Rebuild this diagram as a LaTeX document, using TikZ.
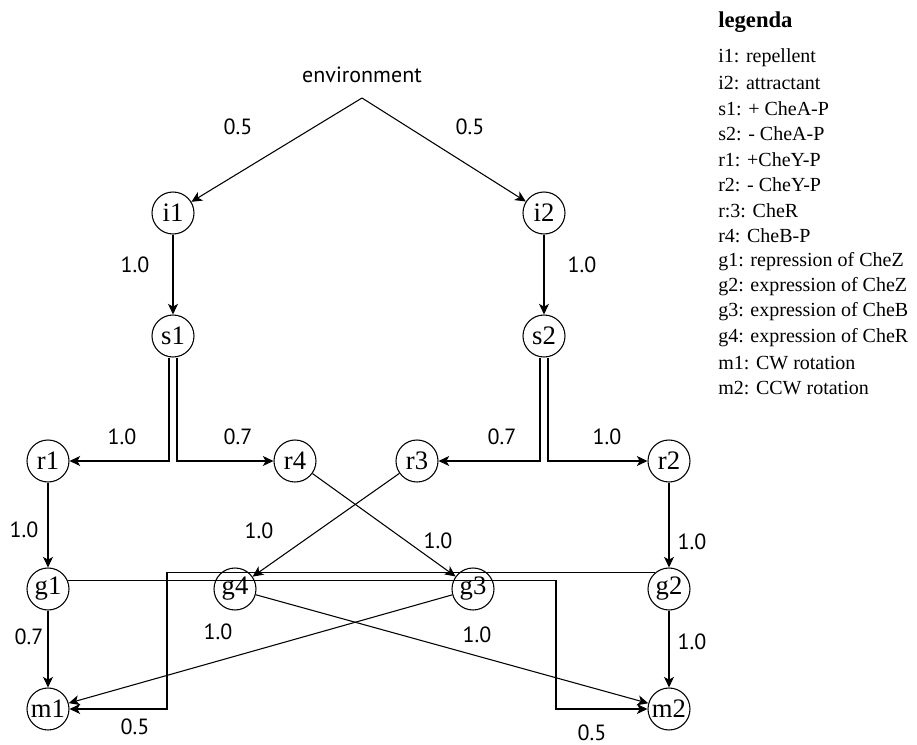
\documentclass[tikz,border=0pt]{standalone}
\usepackage{fontspec}
\setmainfont{Liberation Serif}
\newfontfamily\lblfont{PT Sans}
\usetikzlibrary{arrows.meta,calc}
\begin{document}
\begin{tikzpicture}[x=0.75pt,y=-0.75pt,
  st/.style={circle,draw,line width=0.8pt,minimum size=31.5pt,inner sep=0pt,font=\fontsize{20}{20}\selectfont},
  arr/.style={line width=0.8pt,-{Stealth[length=8pt,width=7.5pt,inset=2.2pt]}},
  wt/.style={inner sep=0pt,font=\lblfont\fontsize{16.5}{16.5}\selectfont},
  leg/.style={anchor=west,inner sep=0pt,font=\fontsize{15}{15}\selectfont}]
\useasboundingbox (0,0) rectangle (917,745);
% nodes
\node[wt] (env) at (362,75) {environment};
\coordinate (apex) at (362,98);
\node[st] (i1) at (173,213) {i1};
\node[st] (i2) at (544,213) {i2};
\node[st] (s1) at (173,336) {s1};
\node[st] (s2) at (544,336) {s2};
\node[st] (r1) at (48,461) {r1};
\node[st] (r4) at (295,461) {r4};
\node[st] (r3) at (417,461) {r3};
\node[st] (r2) at (669,461) {r2};
\node[st] (g1) at (48,589) {g1};
\node[st] (g4) at (235,589) {g4};
\node[st] (g3) at (473,589) {g3};
\node[st] (g2) at (669,589) {g2};
\node[st] (m1) at (48,709) {m1};
\node[st] (m2) at (669,709) {m2};
\coordinate (bendR) at (556,0);
\coordinate (bendL) at (167,0);
% connectors
\draw[arr] (apex) -- (i1);
\draw[arr] (apex) -- (i2);
\draw[arr] (i1) -- (s1);
\draw[arr] (i2) -- (s2);
\draw[arr] ([xshift=-3pt]s1.south) |- (r1);
\draw[arr] ([xshift=3pt]s1.south) |- (r4);
\draw[arr] ([xshift=-3pt]s2.south) |- (r3);
\draw[arr] ([xshift=3pt]s2.south) |- (r2);
\draw[arr] (r1) -- (g1);
\draw[arr] (r2) -- (g2);
\draw[arr] (g1) -- (m1);
\draw[arr] (g2) -- (m2);
\draw[arr] (r4) -- (g3);
\draw[arr] (r3) -- (g4);
\draw[arr] (g4) -- (m2);
\draw[arr] (g3) -- (m1);
\draw[arr] (g1.22) -- (g1.22 -| bendR) |- (m2);
\draw[arr] (g2.130) -- (g2.130 -| bendL) |- (m1);
% weights
\node[wt] (w1) at (238,127) {0.5};
\node[wt] (w2) at (470,127) {0.5};
\node[wt] (w3) at (135,265) {1.0};
\node[wt] (w4) at (582,265) {1.0};
\node[wt] (w5) at (122,437) {1.0};
\node[wt] (w6) at (238,437) {0.7};
\node[wt] (w7) at (502,437) {0.7};
\node[wt] (w8) at (607,437) {1.0};
\node[wt] (w9) at (24,530) {1.0};
\node[wt] (w10) at (259,531) {1.0};
\node[wt] (w11) at (438,541) {1.0};
\node[wt] (w12) at (692,542) {1.0};
\node[wt] (w13) at (29,637) {0.7};
\node[wt] (w14) at (218,632) {1.0};
\node[wt] (w15) at (477,635) {1.0};
\node[wt] (w16) at (692,642) {1.0};
\node[wt] (w17) at (135,727) {0.5};
\node[wt] (w18) at (592,733) {0.5};
% legend
\node[leg,font=\bfseries\fontsize{17}{17}\selectfont] (legt) at (718,22) {legenda};
\foreach \t [count=\k from 0] in {i1: repellent, i2: attractant, s1: + CheA-P, s2: - CheA-P, r1: +CheY-P, r2: - CheY-P, r:3: CheR, r4: CheB-P, g1: repression of CheZ, g2: expression of CheZ, g3: expression of CheB, g4: expression of CheR, m1: CW rotation, m2: CCW rotation}
  \node[leg] (leg\k) at (718,58+25.4*\k) {\t};
\end{tikzpicture}
\end{document}
